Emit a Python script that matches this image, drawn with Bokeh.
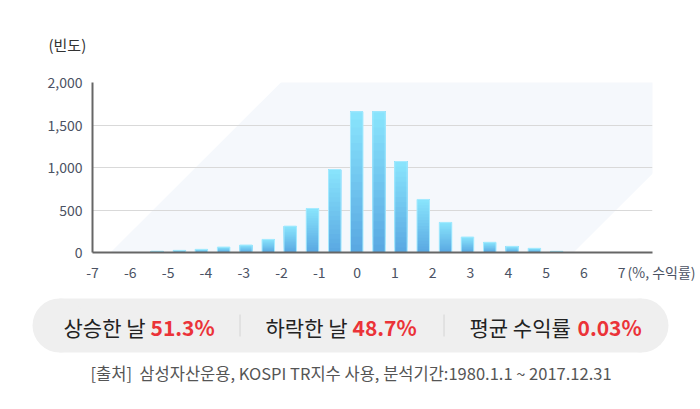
from bokeh.plotting import figure
from bokeh.models import Range1d, FixedTicker, NumeralTickFormatter, Title
from bokeh.embed import file_html
from bokeh.resources import INLINE
from bokeh.core.properties import value

FONT = "Noto Sans CJK KR"

# ---- data ----
bin_centers = [-5.29, -4.70, -4.12, -3.53, -2.94, -2.35, -1.77, -1.18, -0.59,
               -0.01, 0.58, 1.16, 1.75, 2.34, 2.92, 3.51, 4.10, 4.69, 5.28]
counts = [15, 25, 37, 64, 88, 154, 310, 518, 976,
          1656, 1656, 1070, 624, 354, 182, 120, 72, 49, 14]
x_ticks = [-7, -6, -5, -4, -3, -2, -1, 0, 1, 2, 3, 4, 5, 6, 7]
x_tick_labels = ["-7", "-6", "-5", "-4", "-3", "-2", "-1", "0", "1", "2", "3", "4", "5", "6", "7"]
y_ticks = [0, 500, 1000, 1500, 2000]
y_grid_ticks = [500, 1000, 1500]
y_title = "(빈도)"
x_unit = "(%, 수익률)"
summary_labels = ["상승한 날", "하락한 날", "평균 수익률"]
summary_values = ["51.3%", "48.7%", "0.03%"]
source_note = "[출처] \u00a0삼성자산운용, KOSPI TR지수 사용, 분석기간:1980.1.1 ~ 2017.12.31"

# ---- top chart ----
W = 700
H1 = 290
p = figure(width=W, height=H1, output_backend="svg", toolbar_location=None,
           x_range=Range1d(-7, 7.815), y_range=Range1d(0, 2000),
           min_border_left=92, min_border_right=48, min_border_top=82,
           min_border_bottom=38)
p.outline_line_color = None
p.background_fill_color = "white"
p.border_fill_color = "white"

# faint diagonal backdrop band
band_x = [-6.524, 5.725, 11.36, -0.889]
band_y = [0, 0, 2500, 2500]
p.patch(band_x, band_y, fill_color="#f5f8fc", line_color=None, level="image")

# gradient bars (stacked slices, light on top)
N = 18
top_rgb = (0x88, 0xE3, 0xFC)
bot_rgb = (0x5A, 0xA9, 0xE2)
bar_w = 0.33
for k in range(N):
    t = k / (N - 1)
    c = tuple(int(round(bot_rgb[i] + (top_rgb[i] - bot_rgb[i]) * t)) for i in range(3))
    col = "#%02x%02x%02x" % c
    bottoms = [v * k / N for v in counts]
    p.vbar(x=bin_centers, width=bar_w, bottom=bottoms, top=counts,
           fill_color=col, line_color=None)
p.vbar(x=bin_centers, width=bar_w, bottom=0, top=counts,
       fill_color=None, line_color="#a6ebff", line_width=1)

p.xgrid.visible = False
p.ygrid.ticker = FixedTicker(ticks=y_grid_ticks)
p.ygrid.grid_line_color = "#d9d9d9"
p.ygrid.grid_line_width = 1

for ax in (p.xaxis[0], p.yaxis[0]):
    ax.axis_line_color = "#666666"
    ax.axis_line_width = 2
    ax.major_tick_line_color = None
    ax.minor_tick_line_color = None
    ax.major_tick_in = 0
    ax.major_tick_out = 0
    ax.major_label_text_font = FONT
    ax.major_label_text_font_size = "14px"
    ax.major_label_text_color = "#4b5263"

p.xaxis[0].ticker = FixedTicker(ticks=x_ticks)
p.xaxis[0].major_label_overrides = dict(zip(x_ticks, x_tick_labels))
p.xaxis[0].major_label_standoff = 14
p.yaxis[0].ticker = FixedTicker(ticks=y_ticks)
p.yaxis[0].formatter = NumeralTickFormatter(format="0,0")
p.yaxis[0].major_label_standoff = 10

# y-axis caption as the plot title (side panels are not clipped)
p.title.text = y_title
p.title.align = "left"
p.title.offset = -44
p.title.standoff = 56
p.title.text_font = FONT
p.title.text_font_size = "15px"
p.title.text_font_style = "normal"
p.title.text_color = "#333333"

# x unit caption, placed on the tick-label line
p.add_layout(Title(text=x_unit, align="left", offset=535, standoff=-38,
                   vertical_align="top",
                   text_font=FONT, text_font_size="14px", text_font_style="normal",
                   text_color="#4b5263"), "below")

# ---- bottom summary panel (page coordinates) ----
H2 = 409 - H1
q = figure(width=W, height=H2, output_backend="svg", toolbar_location=None,
           x_range=Range1d(0, W), y_range=Range1d(409, H1),
           x_axis_type=None, y_axis_type=None,
           min_border=0, min_border_left=0, min_border_right=0,
           min_border_top=0, min_border_bottom=0)
q.outline_line_color = None
q.xgrid.visible = False
q.ygrid.visible = False
q.background_fill_color = "white"
q.border_fill_color = "white"

pill_col = "#efefef"
q.quad(left=59, right=641, bottom=352, top=298, fill_color=pill_col, line_color=None)
q.circle(x=[59, 641], y=[325, 325], radius=27, fill_color=pill_col, line_color=None)

q.segment(x0=[239.5, 443.5], y0=[314, 314], x1=[239.5, 443.5], y1=[336, 336],
          line_color="#d4d4d4", line_width=1)

label_x = [63, 265, 469]
value_x = [150, 352, 577]
q.text(x=label_x, y=[326] * 3, text=summary_labels, text_font=value(FONT),
       text_font_size="21px", text_color="#222222", text_baseline="middle",
       text_align="left")
q.text(x=value_x, y=[326] * 3, text=summary_values, text_font=value(FONT),
       text_font_size="21px", text_font_style="bold", text_color="#eb3338",
       text_baseline="middle", text_align="left")
q.text(x=[350.5], y=[372], text=[source_note], text_font=value(FONT),
       text_font_size="16.5px", text_color="#555555", text_baseline="middle",
       text_align="center")

open("out.html", "w").write(file_html([p, q], INLINE))
